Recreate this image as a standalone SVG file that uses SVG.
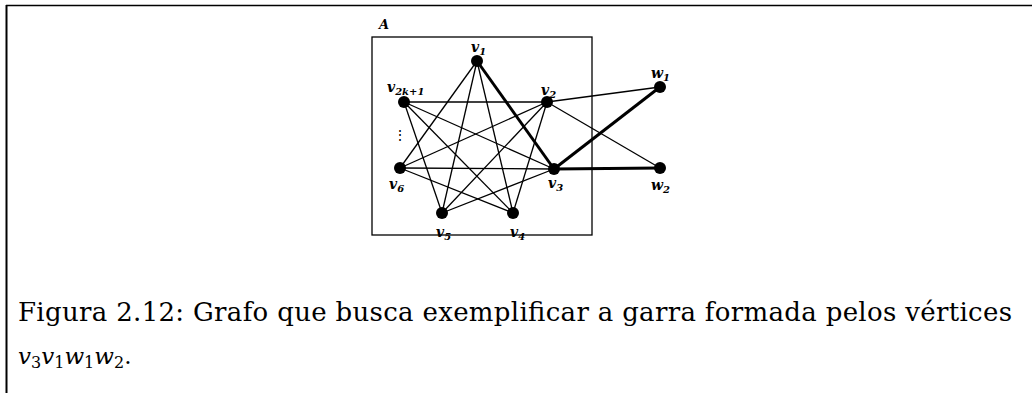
<svg xmlns="http://www.w3.org/2000/svg" width="1032" height="393" viewBox="0 0 1032 393">
<style>
.e{stroke:#000;stroke-width:1.3;fill:none}
.t{stroke:#000;stroke-width:3;fill:none}
.n{fill:#000}
</style>
<rect width="1032" height="393" fill="#fff"/>
<g id="frame">
<line x1="6" y1="5.5" x2="1032" y2="5.5" stroke="#000" stroke-width="1.5"/>
<line x1="6.5" y1="5" x2="6.5" y2="393" stroke="#000" stroke-width="2"/>
</g>
<g id="setA">
<rect x="372" y="37" width="220" height="198" fill="none" stroke="#000" stroke-width="1.3"/>
<text x="379" y="29" font-family="DejaVu Serif, serif" font-style="italic" font-weight="bold" font-size="13">A</text>
<text x="400" y="140" font-family="DejaVu Serif, serif" font-size="14" text-anchor="middle">⋮</text>
</g>
<g id="connectors">
<line class="e" x1="404" y1="102" x2="547" y2="102"/>
<line class="e" x1="400" y1="168" x2="554" y2="169"/>
<line class="e" x1="477" y1="61" x2="400" y2="168"/>
<line class="e" x1="477" y1="61" x2="442" y2="213"/>
<line class="e" x1="477" y1="61" x2="513" y2="213"/>
<line class="e" x1="547" y1="102" x2="400" y2="168"/>
<line class="e" x1="547" y1="102" x2="442" y2="213"/>
<line class="e" x1="547" y1="102" x2="513" y2="213"/>
<line class="e" x1="404" y1="102" x2="554" y2="169"/>
<line class="e" x1="404" y1="102" x2="442" y2="213"/>
<line class="e" x1="404" y1="102" x2="513" y2="213"/>
<line class="e" x1="554" y1="169" x2="442" y2="213"/>
<line class="e" x1="400" y1="168" x2="513" y2="213"/>
<line class="e" x1="547" y1="102" x2="660" y2="87"/>
<line class="e" x1="547" y1="102" x2="660" y2="168"/>
<line class="t" x1="477" y1="61" x2="554" y2="169"/>
<line class="t" x1="554" y1="169" x2="660" y2="87"/>
<line class="t" x1="554" y1="169" x2="660" y2="168"/>
</g>
<g font-family="DejaVu Serif, serif" font-style="italic" font-weight="bold" font-size="14" fill="#000">
<g id="v1"><circle class="n" cx="477" cy="61" r="6"/><text x="471" y="52">v<tspan font-size="10" dy="3">1</tspan></text></g>
<g id="v2k1"><circle class="n" cx="404" cy="102" r="6"/><text x="387" y="92">v<tspan font-size="10" dy="3">2k+1</tspan></text></g>
<g id="v2"><circle class="n" cx="547" cy="102" r="6"/><text x="541" y="95">v<tspan font-size="10" dy="3">2</tspan></text></g>
<g id="w1"><circle class="n" cx="660" cy="87" r="6"/><text x="651" y="78">w<tspan font-size="10" dy="3">1</tspan></text></g>
<g id="v6"><circle class="n" cx="400" cy="168" r="6"/><text x="389" y="189">v<tspan font-size="10" dy="3">6</tspan></text></g>
<g id="v3"><circle class="n" cx="554" cy="169" r="6"/><text x="548" y="188">v<tspan font-size="10" dy="3">3</tspan></text></g>
<g id="w2"><circle class="n" cx="660" cy="168" r="6"/><text x="651" y="190">w<tspan font-size="10" dy="3">2</tspan></text></g>
<g id="v5"><circle class="n" cx="442" cy="213" r="6"/><text x="436" y="237">v<tspan font-size="10" dy="3">5</tspan></text></g>
<g id="v4"><circle class="n" cx="513" cy="213" r="6"/><text x="510" y="237">v<tspan font-size="10" dy="3">4</tspan></text></g>
</g>
<g id="caption" font-family="DejaVu Serif, serif" font-size="26" fill="#000">
<text x="18" y="321" textLength="994" lengthAdjust="spacing">Figura 2.12: Grafo que busca exemplificar a garra formada pelos vértices</text>
<text x="18" y="364" font-size="23"><tspan font-style="italic">v</tspan><tspan font-size="16" dy="4">3</tspan><tspan font-style="italic" dy="-4">v</tspan><tspan font-size="16" dy="4">1</tspan><tspan font-style="italic" dy="-4">w</tspan><tspan font-size="16" dy="4">1</tspan><tspan font-style="italic" dy="-4">w</tspan><tspan font-size="16" dy="4">2</tspan><tspan dy="-4">.</tspan></text>
</g>
</svg>
